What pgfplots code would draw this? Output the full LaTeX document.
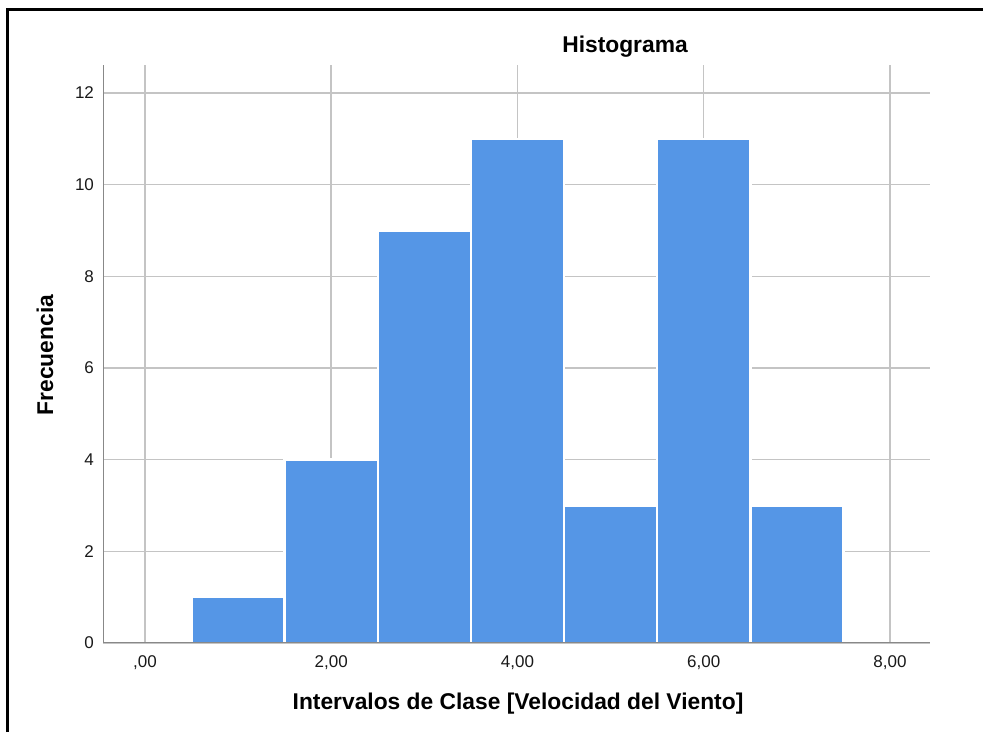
\documentclass[border=0pt]{standalone}
\usepackage{pgfplots}
\pgfplotsset{compat=1.18}
\usepackage{fontspec}
\setmainfont{Liberation Sans}
\definecolor{barblue}{HTML}{5596E6}
\definecolor{gridgray}{HTML}{C4C4C4}
\definecolor{axgray}{HTML}{888888}
\begin{document}
\begin{tikzpicture}
\path[use as bounding box] (0,0) rectangle (491.5pt,366pt);
\draw[black, line width=1.5pt] (3.5pt,0) -- (3.5pt,361pt) -- (491.5pt,361pt);
\begin{axis}[
  at={(51.5pt,44.5pt)}, anchor=south west,
  scale only axis, width=413.5pt, height=289pt,
  xmin=-0.451, xmax=8.43, ymin=0, ymax=12.61,
  xtick={0,2,4,6,8}, xticklabels={{,00},{2,00},{4,00},{6,00},{8,00}},
  ytick={0,2,4,6,8,10,12},
  major tick length=0pt,
  grid=major, major grid style={gridgray, line width=0.75pt},
  axis line style={draw=none},
  /pgf/number format/assume math mode=true,
  tick label style={font=\fontsize{8.5}{10}\selectfont, text=black!90},
  xticklabel style={yshift=-3pt},
  yticklabel style={xshift=-1pt},
]
\addplot[ybar interval, fill=barblue, draw=white, line width=1.2pt]
  coordinates {(0.5,1) (1.5,4) (2.5,9) (3.5,11) (4.5,3) (5.5,11) (6.5,3) (7.5,3)};
\draw[axgray, line width=1pt] (rel axis cs:0,0) -- (rel axis cs:1,0);
\draw[axgray, line width=1pt] (rel axis cs:0,0) -- (rel axis cs:0,1);
\end{axis}
\node[font=\fontsize{11.4}{13}\selectfont\bfseries] at (312.5pt,342.5pt) {Histograma};
\node[font=\fontsize{11.4}{13}\selectfont\bfseries] at (259pt,14pt) {Intervalos de Clase [Velocidad del Viento]};
\node[font=\fontsize{11.4}{13}\selectfont\bfseries, rotate=90] at (22.5pt,188.5pt) {Frecuencia};
\end{tikzpicture}
\end{document}
